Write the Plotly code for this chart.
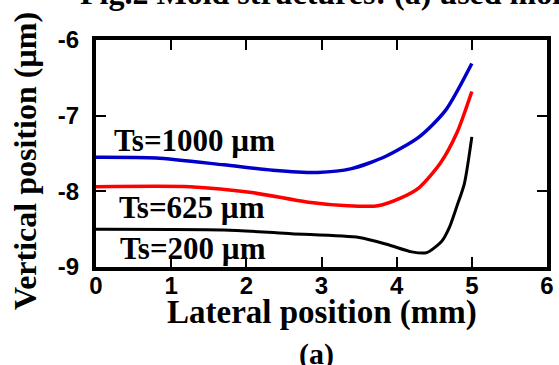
import plotly.graph_objects as go

# Data
blue_x = [0, 0.8, 1.7, 2.35, 2.95, 3.4, 3.85, 4.3, 4.65, 5.0]
blue_y = [-7.55, -7.56, -7.65, -7.72, -7.75, -7.70, -7.54, -7.28, -6.93, -6.31]

red_x = [0, 1.25, 2.1, 2.8, 3.35, 3.75, 4.05, 4.3, 4.58, 4.8, 5.0]
red_y = [-7.94, -7.94, -8.02, -8.14, -8.19, -8.19, -8.09, -7.95, -7.63, -7.23, -6.68]

black_x = [0, 1.7, 2.6, 3.5, 3.9, 4.2, 4.4, 4.6, 4.7, 4.8, 4.9, 5.0]
black_y = [-8.50, -8.51, -8.56, -8.61, -8.71, -8.80, -8.81, -8.66, -8.48, -8.20, -7.90, -7.28]

x_ticks = [0, 1, 2, 3, 4, 5, 6]
y_ticks = [-9, -8, -7, -6]

series_labels = ["Ts=1000 µm", "Ts=625 µm", "Ts=200 µm"]

SERIF = "Liberation Serif"
SANS = "Liberation Sans"

fig = go.Figure()
for xs, ys, col, w in [(blue_x, blue_y, "#0000C8", 3.5),
                       (red_x, red_y, "#FF0000", 3.5),
                       (black_x, black_y, "#000000", 3)]:
    fig.add_trace(go.Scatter(x=xs, y=ys, mode="lines",
                             line=dict(color=col, width=w, shape="spline", smoothing=0.7),
                             showlegend=False, hoverinfo="skip"))

axis_common = dict(showgrid=False, zeroline=False, showline=True, linecolor="black",
                   linewidth=4, mirror="ticks", ticks="inside", ticklen=10,
                   tickwidth=2, tickcolor="black", automargin=False,
                   tickfont=dict(family=SANS, size=24, color="black", weight="bold"))

fig.update_xaxes(range=[0, 6], tickvals=x_ticks, ticktext=[str(v) for v in x_ticks],
                 ticklabelstandoff=-6, **axis_common)
fig.update_yaxes(range=[-9, -6], tickvals=y_ticks, ticktext=[str(v) for v in y_ticks],
                 ticklabelstandoff=8, **axis_common)

def px2paper_x(px):
    return (px - 96) / 451

def px2paper_y(py):
    return (267 - py) / 227

annos = []
label_pos = [(112, 140), (117, 207), (118, 248)]
for text, (lx, ly) in zip(series_labels, label_pos):
    annos.append(dict(text=text, xref="paper", yref="paper", x=px2paper_x(lx), y=px2paper_y(ly),
                      xanchor="left", yanchor="middle", showarrow=False,
                      font=dict(family=SERIF, size=31, color="black", weight="bold")))

annos.append(dict(text="Lateral position (mm)", xref="paper", yref="paper",
                  x=px2paper_x(322), y=px2paper_y(312), xanchor="center", yanchor="middle",
                  showarrow=False, font=dict(family=SERIF, size=33, color="black", weight="bold")))
annos.append(dict(text="(a)", xref="paper", yref="paper",
                  x=px2paper_x(316), y=px2paper_y(354), xanchor="center", yanchor="middle",
                  showarrow=False, font=dict(family=SERIF, size=30, color="black", weight="bold")))
annos.append(dict(text="Vertical position (µm)", xref="paper", yref="paper", textangle=-90,
                  x=px2paper_x(25), y=px2paper_y(161), xanchor="center", yanchor="middle",
                  showarrow=False, font=dict(family=SERIF, size=32, color="black", weight="bold")))
annos.append(dict(text="Fig.2 Mold structures: (a) used mold", xref="paper", yref="paper",
                  x=px2paper_x(78), y=px2paper_y(13), xanchor="left", yanchor="bottom",
                  showarrow=False, font=dict(family=SERIF, size=32, color="black", weight="bold")))

fig.update_layout(width=559, height=365, margin=dict(l=96, r=12, t=40, b=98),
                  paper_bgcolor="white", plot_bgcolor="white", annotations=annos)

fig.write_html("out.html", config={"displayModeBar": False},
               post_script="document.body.style.margin='0';document.body.style.overflow='hidden';")
